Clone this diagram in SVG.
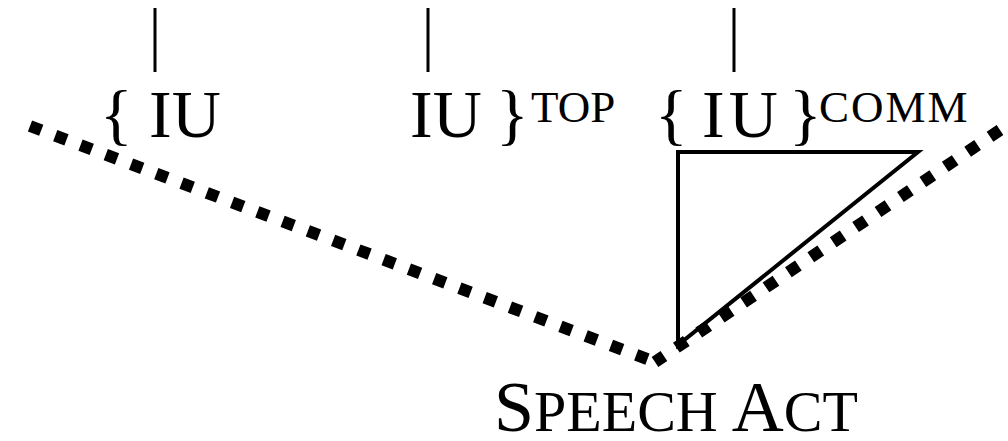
<svg xmlns="http://www.w3.org/2000/svg" width="1008" height="441" viewBox="0 0 1008 441">
<style>
.t{font-family:"Liberation Serif","Times New Roman",serif;fill:#000}
.big{font-size:68px}
.sup{font-size:45px}
.ln{stroke:#000;stroke-width:3;fill:none}
.tri{stroke:#000;stroke-width:4;fill:none;stroke-linejoin:miter}
.dot{stroke:#000;stroke-width:12;fill:none;stroke-dasharray:12 15}
</style>
<rect width="1008" height="441" fill="#fff"/>
<g id="connectors">
<line class="ln" x1="155" y1="8" x2="155" y2="72"/>
<line class="ln" x1="428" y1="8" x2="428" y2="72"/>
<line class="ln" x1="734" y1="8" x2="734" y2="72"/>
<line class="dot" x1="30" y1="126" x2="655" y2="362"/>
<line class="dot" x1="1000" y1="130" x2="655" y2="362"/>
</g>
<g id="iu1"><text class="t big" x="100" y="137">{</text><text class="t big" x="149" y="137">IU</text></g>
<g id="iu2"><text class="t big" x="410" y="137">IU</text><text class="t big" x="496" y="137">}</text><text class="t sup" x="531" y="122">TOP</text></g>
<g id="iu3"><text class="t big" x="655" y="137">{</text><text class="t big" x="702" y="137" letter-spacing="4">IU</text><text class="t big" x="789" y="137">}</text><text class="t sup" x="819" y="122" letter-spacing="2">COMM</text></g>
<g id="triangle"><path class="tri" d="M678,345 L678,152 L918,152 Z"/></g>
<g id="speechact"><text class="t" x="494" y="431"><tspan font-size="72">S</tspan><tspan font-size="58">PEECH</tspan><tspan font-size="72"> A</tspan><tspan font-size="58">CT</tspan></text></g>
</svg>
